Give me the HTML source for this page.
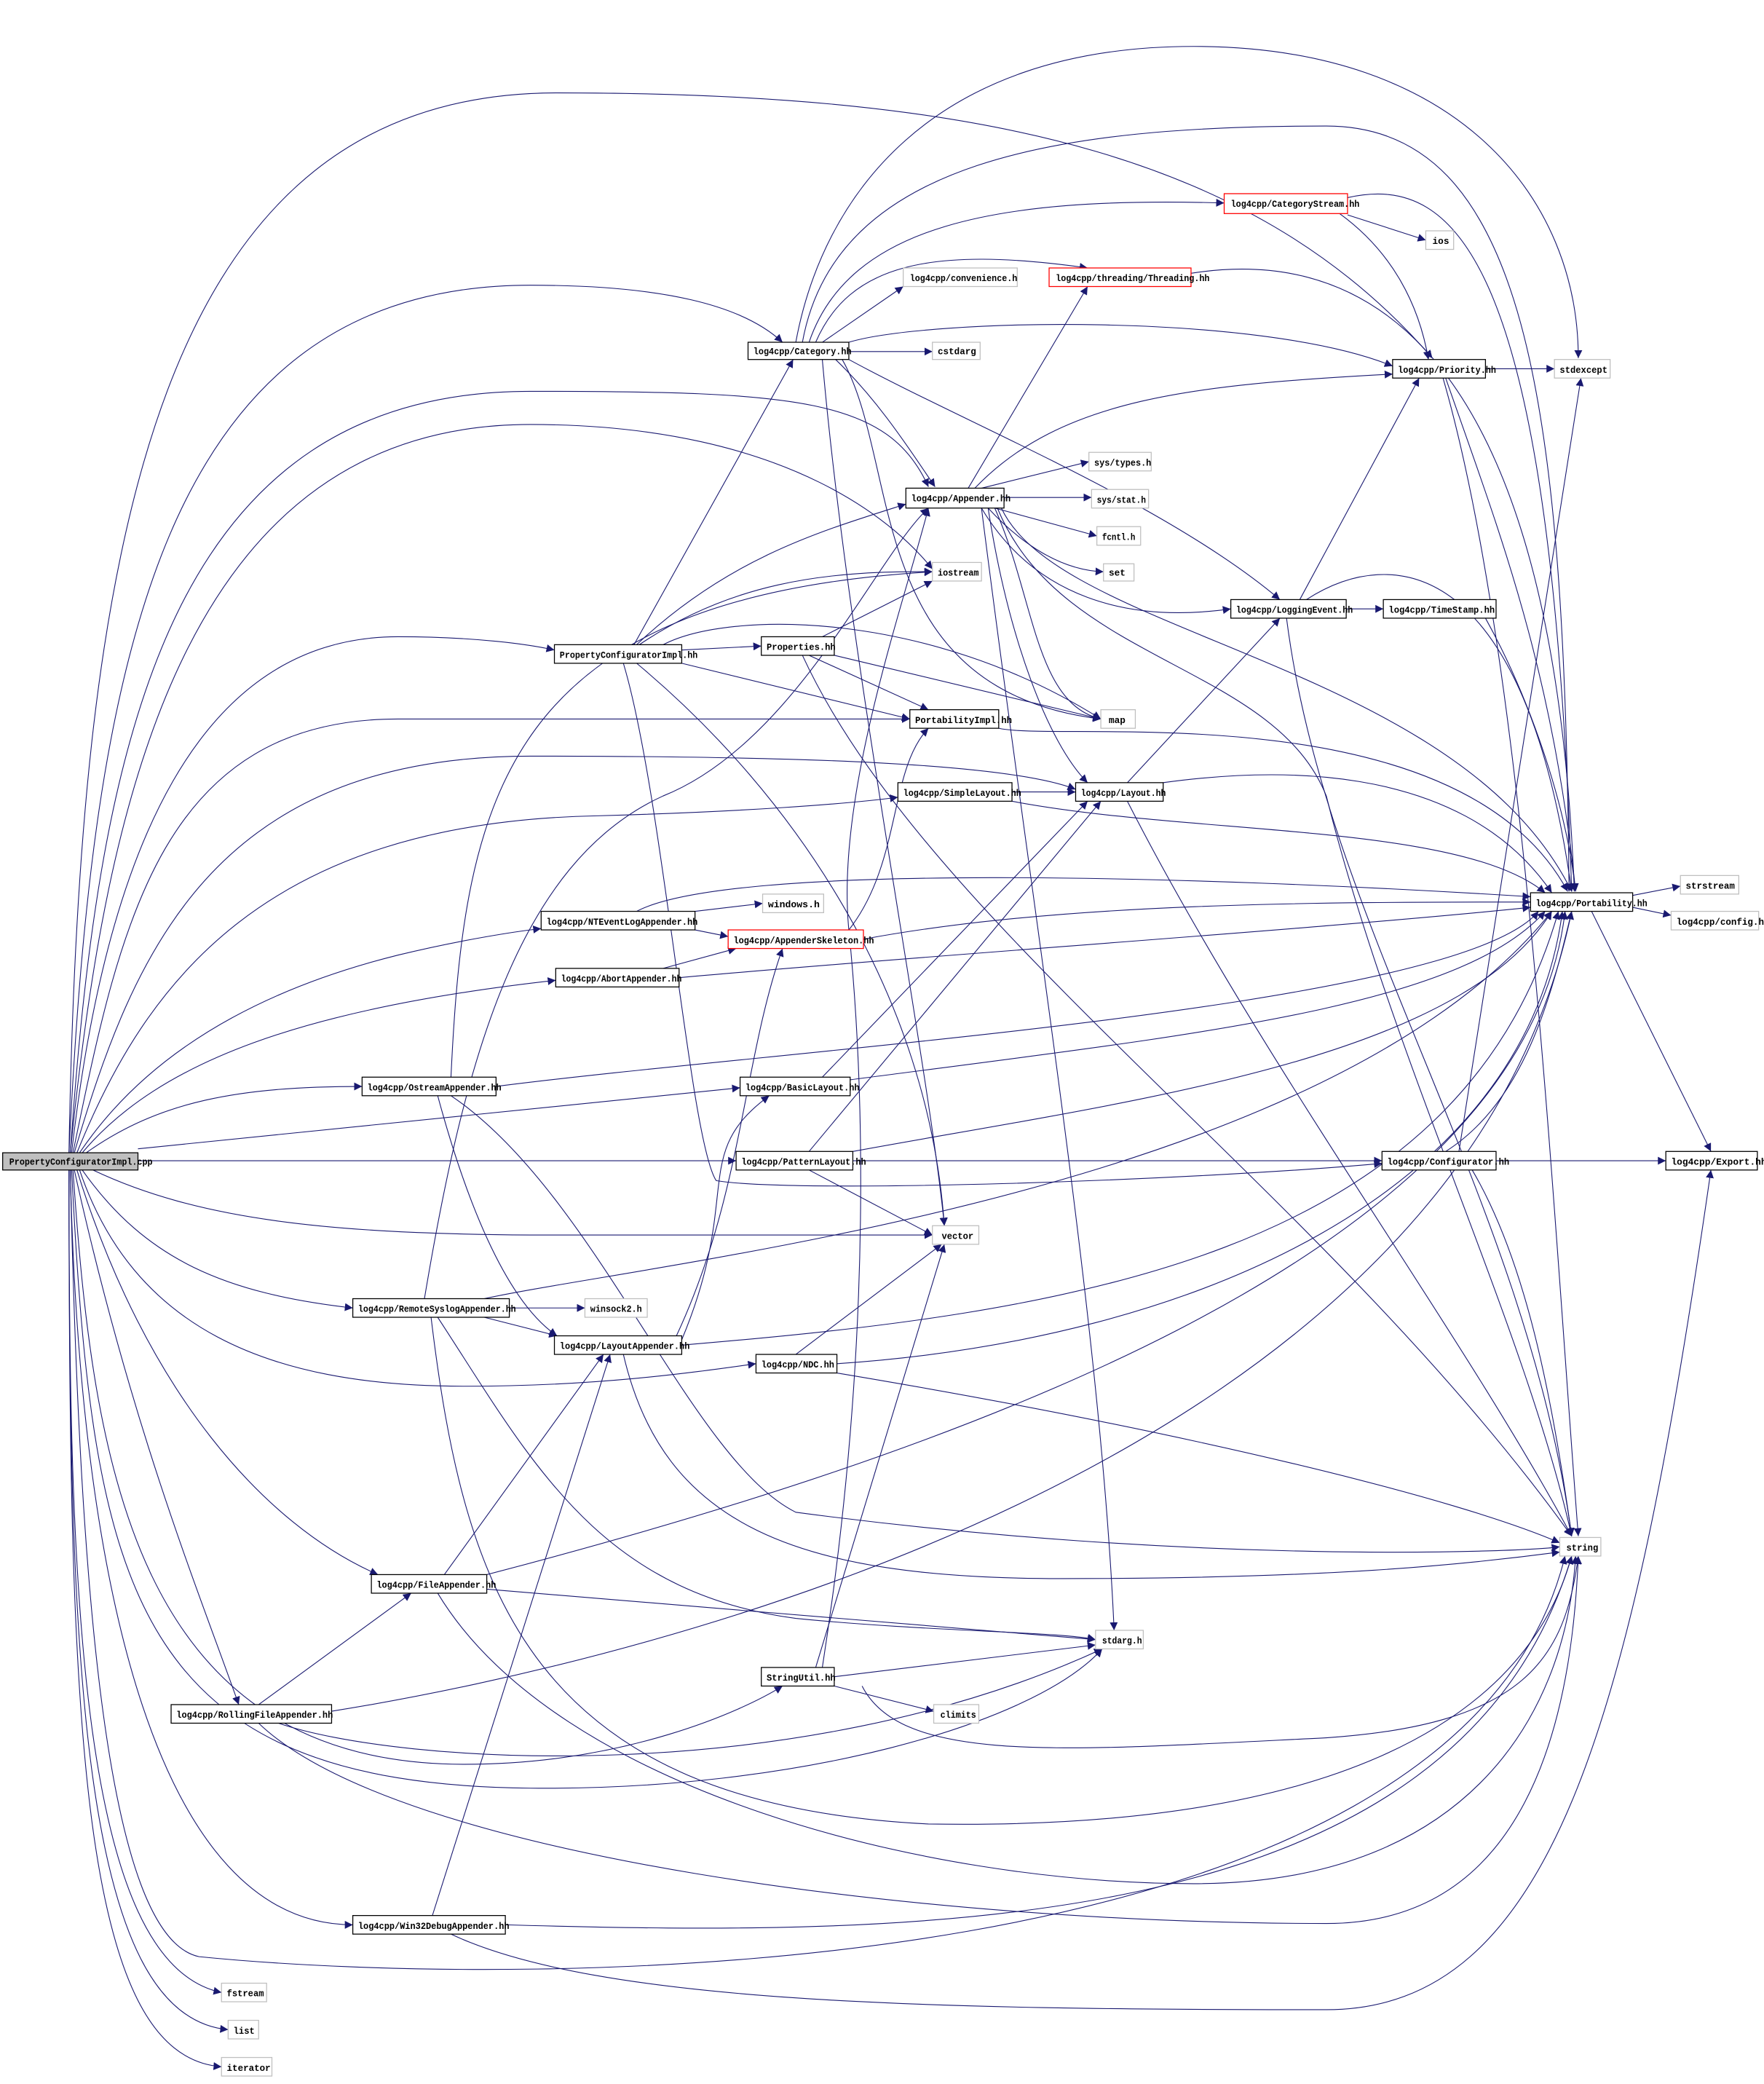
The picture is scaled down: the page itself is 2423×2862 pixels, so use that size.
<!DOCTYPE html>
<html><head><meta charset="utf-8"><style>
html,body{margin:0;padding:0;background:#fff;}
svg{display:block}
text{font-family:"Liberation Mono","DejaVu Sans Mono",monospace;font-size:7px;font-weight:bold;fill:#000}
.e{fill:none;stroke:#191970;stroke-width:0.6}
.n{fill:#fff;stroke:#000;stroke-width:0.7}
.g{fill:#fff;stroke:#bfbfbf;stroke-width:0.7}
.r{fill:#fff;stroke:#f00;stroke-width:0.7}
</style></head><body>
<svg width="2423" height="2862" viewBox="0 0 1330 1571" xmlns="http://www.w3.org/2000/svg">
<defs><marker id="a" viewBox="0 0 10 10" refX="10" refY="5" markerWidth="6" markerHeight="6" markerUnits="userSpaceOnUse" orient="auto"><path d="M0,0 L10,5 L0,10 z" fill="#191970"/></marker></defs>
<g marker-end="url(#a)">
<path class="e" d="M52,869 C60,400 120,70 420,70 C750,70 950,120 1080,270"/>
<path class="e" d="M52,869 C70,500 120,215 400,215 C500,215 560,230 590,258"/>
<path class="e" d="M53,869 C75,550 130,295 400,295 C600,295 670,300 700,367"/>
<path class="e" d="M53,869 C80,600 140,320 400,320 C600,320 680,400 703,429"/>
<path class="e" d="M54,869 C80,640 150,480 300,480 C360,480 400,486 418,490"/>
<path class="e" d="M55,869 C90,700 120,542 300,542 C500,542 640,542 686,542"/>
<path class="e" d="M56,869 C100,720 160,570 400,570 C600,570 760,575 811,595"/>
<path class="e" d="M58,869 C110,740 200,620 450,615 C560,612 640,606 677,601"/>
<path class="e" d="M60,869 C120,780 220,740 300,720 C350,708 390,702 408,700"/>
<path class="e" d="M62,869 C120,800 230,760 419,739"/>
<path class="e" d="M65,869 C120,830 180,819 273,819"/>
<path class="e" d="M104,866 L558,820"/>
<path class="e" d="M104,875 L555,875"/>
<path class="e" d="M70,882 C150,920 250,930 400,931 L703,931"/>
<path class="e" d="M62,882 C110,950 170,975 266,986"/>
<path class="e" d="M60,882 C100,1000 200,1045 350,1045 C450,1045 520,1035 570,1028"/>
<path class="e" d="M58,882 C110,1050 200,1150 285,1187"/>
<path class="e" d="M56,882 C100,1080 150,1200 180,1285"/>
<path class="e" d="M55,882 C70,1100 100,1330 350,1330 C470,1330 560,1290 590,1271"/>
<path class="e" d="M54,882 C70,1200 100,1345 400,1348 C600,1350 780,1300 831,1243"/>
<path class="e" d="M53,882 C60,1200 120,1451 266,1451"/>
<path class="e" d="M53,882 C60,1200 80,1460 150,1475 C400,1500 1100,1500 1180,1173"/>
<path class="e" d="M52,882 C52,1200 60,1480 167,1502"/>
<path class="e" d="M52,882 C52,1250 60,1520 172,1530"/>
<path class="e" d="M52,882 C52,1300 60,1550 167,1558"/>
<path class="e" d="M600,258 C620,150 700,35 900,35 C1100,35 1190,150 1190,270"/>
<path class="e" d="M605,258 C630,120 800,95 1000,95 C1150,95 1180,300 1183,672"/>
<path class="e" d="M610,258 C640,170 750,148 923,153"/>
<path class="e" d="M615,258 C640,200 700,185 820,202"/>
<path class="e" d="M620,258 L681,216"/>
<path class="e" d="M640,265 L703,265"/>
<path class="e" d="M640,258 C700,240 950,235 1050,276"/>
<path class="e" d="M630,271 C660,300 680,330 705,367"/>
<path class="e" d="M640,271 C730,320 880,380 965,452"/>
<path class="e" d="M620,271 C640,500 700,800 712,924"/>
<path class="e" d="M635,271 C680,350 650,520 830,542"/>
<path class="e" d="M1016,162 L1075,181"/>
<path class="e" d="M1010,161 C1050,190 1070,230 1077,271"/>
<path class="e" d="M1016,149 C1100,130 1170,200 1185,672"/>
<path class="e" d="M898,206 C1000,190 1170,220 1187,672"/>
<path class="e" d="M1120,278 L1172,278"/>
<path class="e" d="M1090,285 C1130,400 1170,500 1188,672"/>
<path class="e" d="M1088,285 C1150,500 1170,900 1190,1158"/>
<path class="e" d="M740,368 L821,348"/>
<path class="e" d="M757,375 L823,375"/>
<path class="e" d="M750,383 L827,404"/>
<path class="e" d="M745,383 C770,410 800,430 832,431"/>
<path class="e" d="M730,368 L820,216"/>
<path class="e" d="M735,368 C800,300 900,290 1050,282"/>
<path class="e" d="M740,383 C780,450 850,470 928,459"/>
<path class="e" d="M750,383 C780,450 780,530 830,542"/>
<path class="e" d="M745,383 C760,480 790,560 820,590"/>
<path class="e" d="M755,383 C800,480 1100,500 1185,672"/>
<path class="e" d="M752,383 C800,500 960,500 1000,600 C1050,800 1150,1000 1185,1158"/>
<path class="e" d="M740,383 C780,700 830,1000 840,1229"/>
<path class="e" d="M1015,459 L1043,459"/>
<path class="e" d="M980,452 L1070,285"/>
<path class="e" d="M985,452 C1050,410 1150,420 1185,672"/>
<path class="e" d="M970,466 C1000,700 1150,900 1185,1158"/>
<path class="e" d="M1120,466 C1150,520 1180,600 1188,672"/>
<path class="e" d="M478,486 L598,271"/>
<path class="e" d="M480,486 C550,420 620,400 683,380"/>
<path class="e" d="M482,486 C550,440 620,430 703,431"/>
<path class="e" d="M514,490 L574,487"/>
<path class="e" d="M514,500 L686,542"/>
<path class="e" d="M500,486 C550,460 700,460 830,542"/>
<path class="e" d="M470,500 C500,600 520,860 540,890 C600,900 900,890 1042,877"/>
<path class="e" d="M480,500 C600,600 700,750 712,924"/>
<path class="e" d="M620,480 L703,438"/>
<path class="e" d="M629,494 L830,542"/>
<path class="e" d="M610,494 L700,535"/>
<path class="e" d="M605,494 C700,700 1000,900 1185,1158"/>
<path class="e" d="M753,549 C800,560 1100,520 1182,672"/>
<path class="e" d="M763,597 L811,597"/>
<path class="e" d="M763,604 C900,630 1100,620 1165,673"/>
<path class="e" d="M850,590 L965,466"/>
<path class="e" d="M877,590 C950,580 1100,570 1170,673"/>
<path class="e" d="M850,604 C950,800 1100,1000 1185,1158"/>
<path class="e" d="M524,687 L575,681"/>
<path class="e" d="M524,701 L549,706"/>
<path class="e" d="M480,687 C550,650 900,660 1154,676"/>
<path class="e" d="M640,701 C680,650 670,580 700,549"/>
<path class="e" d="M651,708 C800,680 1000,680 1154,680"/>
<path class="e" d="M500,730 L555,715"/>
<path class="e" d="M512,737 C700,720 1000,700 1154,684"/>
<path class="e" d="M340,812 C350,600 380,450 703,431"/>
<path class="e" d="M330,826 C350,900 380,980 420,1007"/>
<path class="e" d="M340,826 C450,900 520,1100 600,1140 C900,1180 1150,1170 1176,1166"/>
<path class="e" d="M374,819 C600,790 1100,760 1160,687"/>
<path class="e" d="M620,812 L820,604"/>
<path class="e" d="M641,814 C900,780 1100,760 1165,687"/>
<path class="e" d="M610,868 L830,604"/>
<path class="e" d="M643,875 L1042,875"/>
<path class="e" d="M610,882 L703,931"/>
<path class="e" d="M643,868 C850,830 1100,800 1170,687"/>
<path class="e" d="M1128,875 L1256,875"/>
<path class="e" d="M1100,868 L1192,285"/>
<path class="e" d="M1090,868 C1150,830 1170,750 1185,687"/>
<path class="e" d="M1110,882 C1150,950 1170,1050 1185,1158"/>
<path class="e" d="M1231,675 L1267,668"/>
<path class="e" d="M1231,684 L1260,690"/>
<path class="e" d="M1200,687 L1290,868"/>
<path class="e" d="M384,986 L441,986"/>
<path class="e" d="M365,993 L420,1007"/>
<path class="e" d="M320,979 C350,800 390,650 500,600 C600,560 660,420 700,383"/>
<path class="e" d="M330,993 C400,1100 450,1200 600,1220 C700,1230 800,1230 826,1236"/>
<path class="e" d="M325,993 C350,1200 400,1360 700,1375 C1000,1380 1150,1300 1185,1173"/>
<path class="e" d="M365,979 C500,950 1000,900 1170,687"/>
<path class="e" d="M510,1007 C560,900 560,800 590,715"/>
<path class="e" d="M514,1010 C560,900 520,870 580,826"/>
<path class="e" d="M470,1021 C500,1150 600,1190 800,1190 C1000,1190 1100,1180 1176,1170"/>
<path class="e" d="M514,1014 C800,990 1100,950 1175,687"/>
<path class="e" d="M600,1021 L710,938"/>
<path class="e" d="M631,1028 C900,1010 1150,900 1178,687"/>
<path class="e" d="M631,1035 C900,1080 1100,1130 1176,1163"/>
<path class="e" d="M335,1187 L455,1021"/>
<path class="e" d="M367,1198 L826,1236"/>
<path class="e" d="M330,1201 C420,1350 700,1420 900,1420 C1100,1420 1180,1300 1188,1173"/>
<path class="e" d="M367,1187 C700,1100 1150,950 1180,687"/>
<path class="e" d="M629,1264 L826,1240"/>
<path class="e" d="M629,1271 L704,1290"/>
<path class="e" d="M615,1257 L712,938"/>
<path class="e" d="M650,1271 C680,1330 800,1320 1000,1310 C1150,1300 1180,1250 1190,1173"/>
<path class="e" d="M620,1257 C660,1000 650,800 640,701 C630,600 680,460 700,383"/>
<path class="e" d="M195,1285 L310,1201"/>
<path class="e" d="M250,1290 C500,1250 1100,1100 1185,687"/>
<path class="e" d="M210,1299 C300,1330 600,1350 831,1243"/>
<path class="e" d="M195,1299 C300,1400 700,1450 1000,1450 C1150,1450 1185,1300 1190,1173"/>
<path class="e" d="M326,1444 L460,1021"/>
<path class="e" d="M381,1451 C700,1460 1100,1460 1185,1173"/>
<path class="e" d="M340,1458 C450,1510 700,1515 1000,1515 C1170,1515 1230,1300 1290,882"/>
</g>
<rect x="2" y="869" width="102" height="13" fill="#bfbfbf" stroke="#000" stroke-width="0.7"/><text x="7" y="878" textLength="108" lengthAdjust="spacingAndGlyphs">PropertyConfiguratorImpl.cpp</text>
<rect class="n" x="564" y="258" width="76" height="13"/><text x="568" y="267" textLength="74" lengthAdjust="spacingAndGlyphs">log4cpp/Category.hh</text>
<rect class="r" x="923" y="146" width="93" height="15"/><text x="928" y="156" textLength="97" lengthAdjust="spacingAndGlyphs">log4cpp/CategoryStream.hh</text>
<rect class="g" x="1075" y="174" width="21" height="14"/><text x="1080" y="184">ios</text>
<rect class="g" x="681" y="202" width="86" height="14"/><text x="686" y="212" textLength="81" lengthAdjust="spacingAndGlyphs">log4cpp/convenience.h</text>
<rect class="r" x="791" y="202" width="107" height="14"/><text x="796" y="212" textLength="116" lengthAdjust="spacingAndGlyphs">log4cpp/threading/Threading.hh</text>
<rect class="g" x="703" y="258" width="36" height="13"/><text x="707" y="267" textLength="29" lengthAdjust="spacingAndGlyphs">cstdarg</text>
<rect class="n" x="1050" y="271" width="70" height="14"/><text x="1054" y="281" textLength="74" lengthAdjust="spacingAndGlyphs">log4cpp/Priority.hh</text>
<rect class="g" x="1172" y="271" width="42" height="14"/><text x="1176" y="281" textLength="36" lengthAdjust="spacingAndGlyphs">stdexcept</text>
<rect class="g" x="821" y="341" width="47" height="14"/><text x="825" y="351" textLength="43" lengthAdjust="spacingAndGlyphs">sys/types.h</text>
<rect class="n" x="683" y="368" width="74" height="15"/><text x="687" y="378" textLength="75" lengthAdjust="spacingAndGlyphs">log4cpp/Appender.hh</text>
<rect class="g" x="823" y="369" width="43" height="14"/><text x="827" y="379" textLength="37" lengthAdjust="spacingAndGlyphs">sys/stat.h</text>
<rect class="g" x="827" y="397" width="33" height="14"/><text x="831" y="407" textLength="25" lengthAdjust="spacingAndGlyphs">fcntl.h</text>
<rect class="g" x="832" y="425" width="23" height="13"/><text x="836" y="434">set</text>
<rect class="g" x="703" y="424" width="37" height="14"/><text x="707" y="434" textLength="31" lengthAdjust="spacingAndGlyphs">iostream</text>
<rect class="n" x="928" y="452" width="87" height="14"/><text x="932" y="462" textLength="88" lengthAdjust="spacingAndGlyphs">log4cpp/LoggingEvent.hh</text>
<rect class="n" x="1043" y="452" width="85" height="14"/><text x="1047" y="462" textLength="80" lengthAdjust="spacingAndGlyphs">log4cpp/TimeStamp.hh</text>
<rect class="n" x="418" y="486" width="96" height="14"/><text x="422" y="496" textLength="104" lengthAdjust="spacingAndGlyphs">PropertyConfiguratorImpl.hh</text>
<rect class="n" x="574" y="480" width="55" height="14"/><text x="578" y="490" textLength="52" lengthAdjust="spacingAndGlyphs">Properties.hh</text>
<rect class="n" x="686" y="535" width="67" height="14"/><text x="690" y="545" textLength="73" lengthAdjust="spacingAndGlyphs">PortabilityImpl.hh</text>
<rect class="g" x="830" y="535" width="26" height="14"/><text x="836" y="545">map</text>
<rect class="n" x="677" y="590" width="86" height="14"/><text x="681" y="600" textLength="89" lengthAdjust="spacingAndGlyphs">log4cpp/SimpleLayout.hh</text>
<rect class="n" x="811" y="590" width="66" height="14"/><text x="815" y="600" textLength="64" lengthAdjust="spacingAndGlyphs">log4cpp/Layout.hh</text>
<rect class="n" x="1154" y="673" width="77" height="14"/><text x="1158" y="683" textLength="84" lengthAdjust="spacingAndGlyphs">log4cpp/Portability.hh</text>
<rect class="g" x="1267" y="660" width="44" height="14"/><text x="1271" y="670" textLength="37" lengthAdjust="spacingAndGlyphs">strstream</text>
<rect class="g" x="1260" y="687" width="66" height="14"/><text x="1264" y="697" textLength="66" lengthAdjust="spacingAndGlyphs">log4cpp/config.h</text>
<rect class="n" x="408" y="687" width="116" height="14"/><text x="412" y="697" textLength="114" lengthAdjust="spacingAndGlyphs">log4cpp/NTEventLogAppender.hh</text>
<rect class="g" x="575" y="674" width="46" height="14"/><text x="579" y="684" textLength="39" lengthAdjust="spacingAndGlyphs">windows.h</text>
<rect class="r" x="549" y="701" width="102" height="14"/><text x="553" y="711" textLength="106" lengthAdjust="spacingAndGlyphs">log4cpp/AppenderSkeleton.hh</text>
<rect class="n" x="419" y="730" width="93" height="14"/><text x="423" y="740" textLength="91" lengthAdjust="spacingAndGlyphs">log4cpp/AbortAppender.hh</text>
<rect class="n" x="273" y="812" width="101" height="14"/><text x="277" y="822" textLength="101" lengthAdjust="spacingAndGlyphs">log4cpp/OstreamAppender.hh</text>
<rect class="n" x="558" y="812" width="83" height="14"/><text x="562" y="822" textLength="86" lengthAdjust="spacingAndGlyphs">log4cpp/BasicLayout.hh</text>
<rect class="n" x="555" y="868" width="88" height="14"/><text x="559" y="878" textLength="94" lengthAdjust="spacingAndGlyphs">log4cpp/PatternLayout.hh</text>
<rect class="n" x="1042" y="868" width="86" height="14"/><text x="1046" y="878" textLength="92" lengthAdjust="spacingAndGlyphs">log4cpp/Configurator.hh</text>
<rect class="n" x="1256" y="868" width="69" height="14"/><text x="1260" y="878" textLength="72" lengthAdjust="spacingAndGlyphs">log4cpp/Export.hh</text>
<rect class="g" x="703" y="924" width="35" height="14"/><text x="710" y="934" textLength="24" lengthAdjust="spacingAndGlyphs">vector</text>
<rect class="n" x="266" y="979" width="118" height="14"/><text x="270" y="989" textLength="119" lengthAdjust="spacingAndGlyphs">log4cpp/RemoteSyslogAppender.hh</text>
<rect class="g" x="441" y="979" width="47" height="14"/><text x="445" y="989" textLength="39" lengthAdjust="spacingAndGlyphs">winsock2.h</text>
<rect class="n" x="418" y="1007" width="96" height="14"/><text x="422" y="1017" textLength="98" lengthAdjust="spacingAndGlyphs">log4cpp/LayoutAppender.hh</text>
<rect class="n" x="570" y="1021" width="61" height="14"/><text x="574" y="1031" textLength="55" lengthAdjust="spacingAndGlyphs">log4cpp/NDC.hh</text>
<rect class="g" x="1176" y="1159" width="31" height="14"/><text x="1181" y="1169" textLength="24" lengthAdjust="spacingAndGlyphs">string</text>
<rect class="n" x="280" y="1187" width="87" height="14"/><text x="284" y="1197" textLength="90" lengthAdjust="spacingAndGlyphs">log4cpp/FileAppender.hh</text>
<rect class="g" x="826" y="1229" width="36" height="14"/><text x="831" y="1239" textLength="30" lengthAdjust="spacingAndGlyphs">stdarg.h</text>
<rect class="n" x="574" y="1257" width="55" height="14"/><text x="578" y="1267" textLength="52" lengthAdjust="spacingAndGlyphs">StringUtil.hh</text>
<rect class="g" x="704" y="1285" width="34" height="14"/><text x="709" y="1295" textLength="27" lengthAdjust="spacingAndGlyphs">climits</text>
<rect class="n" x="129" y="1285" width="121" height="14"/><text x="133" y="1295" textLength="118" lengthAdjust="spacingAndGlyphs">log4cpp/RollingFileAppender.hh</text>
<rect class="n" x="266" y="1444" width="115" height="14"/><text x="270" y="1454" textLength="114" lengthAdjust="spacingAndGlyphs">log4cpp/Win32DebugAppender.hh</text>
<rect class="g" x="167" y="1495" width="34" height="14"/><text x="171" y="1505" textLength="28" lengthAdjust="spacingAndGlyphs">fstream</text>
<rect class="g" x="172" y="1523" width="23" height="14"/><text x="176" y="1533" textLength="16" lengthAdjust="spacingAndGlyphs">list</text>
<rect class="g" x="167" y="1551" width="38" height="14"/><text x="171" y="1561" textLength="33" lengthAdjust="spacingAndGlyphs">iterator</text>
</svg>
</body></html>
